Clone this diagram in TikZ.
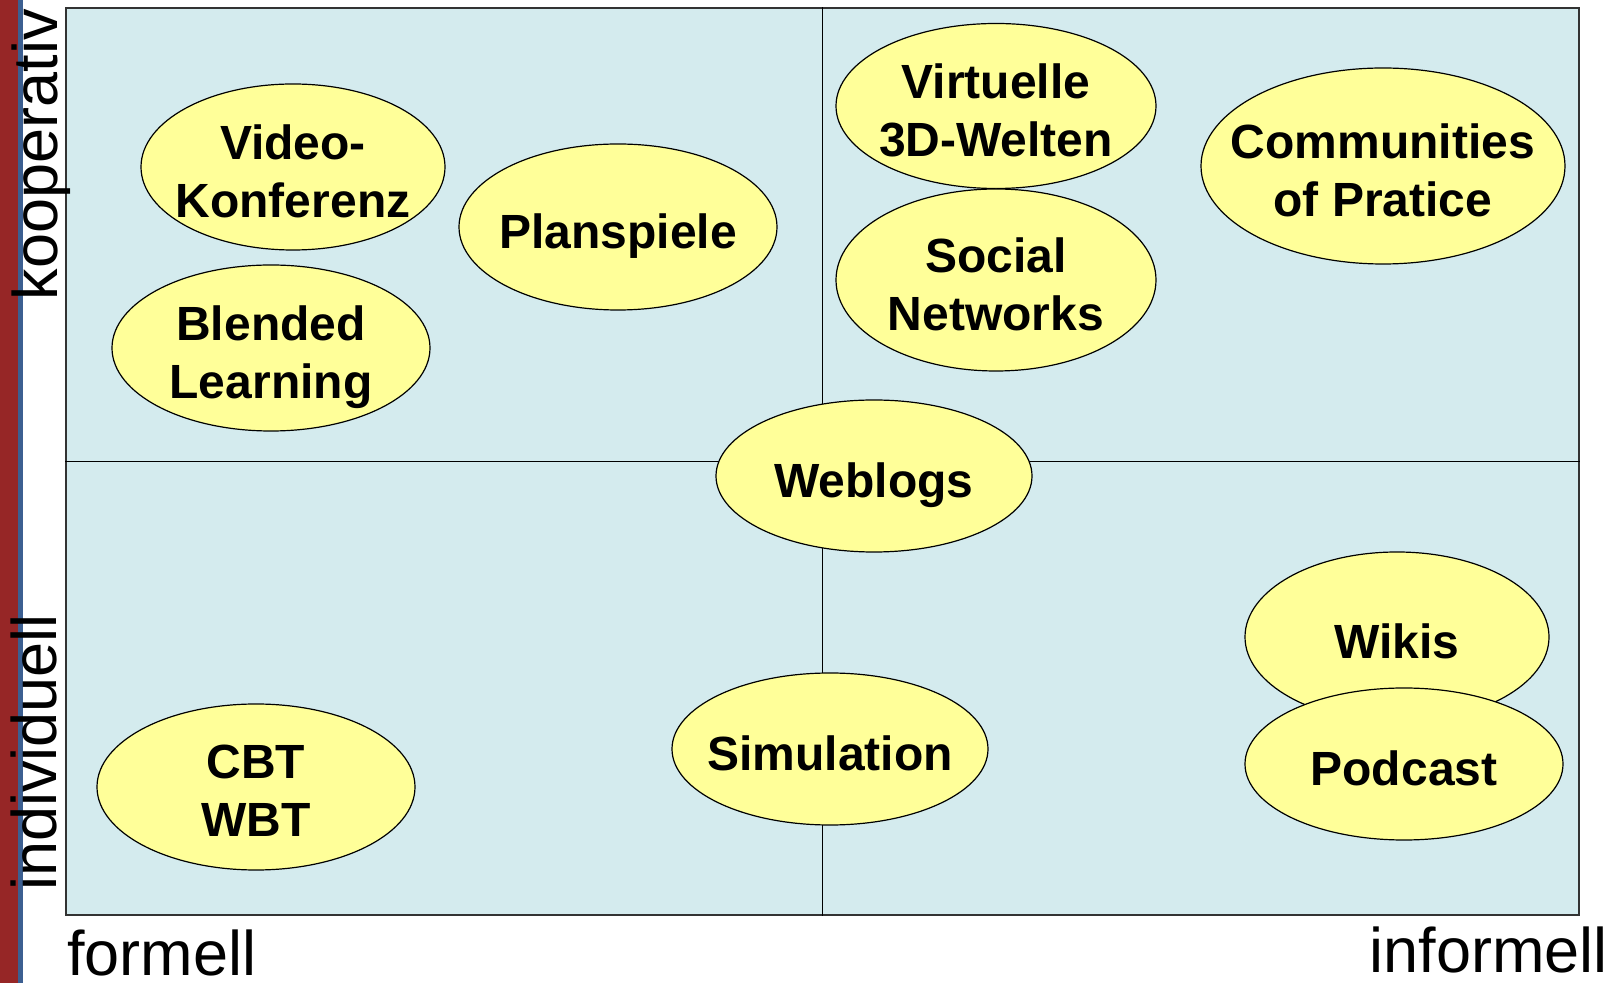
\documentclass[tikz,border=0pt]{standalone}
\usepackage{fontspec}
\setmainfont{Liberation Sans}
\usepackage{tikz}
\usetikzlibrary{shapes.geometric}
\definecolor{myred}{RGB}{150,38,38}
\definecolor{myblue}{RGB}{60,95,145}
\definecolor{myaqua}{RGB}{212,235,238}
\definecolor{myyellow}{RGB}{255,255,153}

\begin{document}
\begin{tikzpicture}[x=0.5pt,y=-0.5pt,
        quad/.style={draw=black!80,line width=0.75pt,fill=myaqua,inner sep=0pt,minimum width=756.5pt,minimum height=453.5pt},
        bubble/.style={ellipse,draw,line width=0.6pt,fill=myyellow,inner sep=0pt},
        bubtext/.style={font=\fontsize{24}{29}\selectfont\bfseries,align=center,inner sep=0pt,text depth=0pt,yshift=-2pt},
        axis/.style={font=\fontsize{31.5}{38}\selectfont,inner sep=0pt,text depth=0pt}]
        \useasboundingbox (0,0) rectangle (1624,983);
        \fill[myred] (0,0) rectangle (18,983);
        \fill[myblue] (18,0) rectangle (23,983);
        \node[quad] (grid) at (822.5,461.5) {};
        \draw[line width=0.5pt] (grid.north) -- (grid.south);
        \draw[line width=0.5pt] (grid.west) -- (grid.east);
        \node[axis,rotate=90,anchor=base east] (koop) at (57,9) {kooperativ};
        \node[axis,rotate=90,anchor=base west] (indiv) at (56,891) {individuell};
        \node[axis,anchor=base west] (form) at (67,976) {formell};
        \node[axis,anchor=base east] (inform) at (1608,972) {informell};
        \node[bubble,minimum width=152pt,minimum height=83pt,label={[bubtext]center:{Video-\\Konferenz}}] (video) at (293,167) {};
        \node[bubble,minimum width=159pt,minimum height=83pt,label={[bubtext]center:{Blended\\Learning}}] (blended) at (271,348) {};
        \node[bubble,minimum width=159pt,minimum height=83pt,label={[bubtext]center:{Planspiele}}] (plan) at (618,227) {};
        \node[bubble,minimum width=160pt,minimum height=82.5pt,label={[bubtext]center:{Virtuelle\\3D-Welten}}] (virt) at (996,106) {};
        \node[bubble,minimum width=160pt,minimum height=91pt,label={[bubtext]center:{Social\\Networks}}] (social) at (996,280) {};
        \node[bubble,minimum width=182pt,minimum height=98pt,label={[bubtext]center:{Communities\\of Pratice}}] (cop) at (1383,166) {};
        \node[bubble,minimum width=158pt,minimum height=76pt,label={[bubtext]center:{Weblogs}}] (weblogs) at (874,476) {};
        \node[bubble,minimum width=158pt,minimum height=76pt,label={[bubtext]center:{Simulation}}] (sim) at (830,749) {};
        \node[bubble,minimum width=159pt,minimum height=83pt,label={[bubtext]center:{CBT\\WBT}}] (cbt) at (256,787) {};
        \node[bubble,minimum width=152pt,minimum height=85pt,label={[bubtext]center:{Wikis}}] (wikis) at (1397,637) {};
        \node[bubble,minimum width=159pt,minimum height=76pt,label={[bubtext]center:{Podcast}}] (podcast) at (1404,764) {};
    \end{tikzpicture}
\end{document}
